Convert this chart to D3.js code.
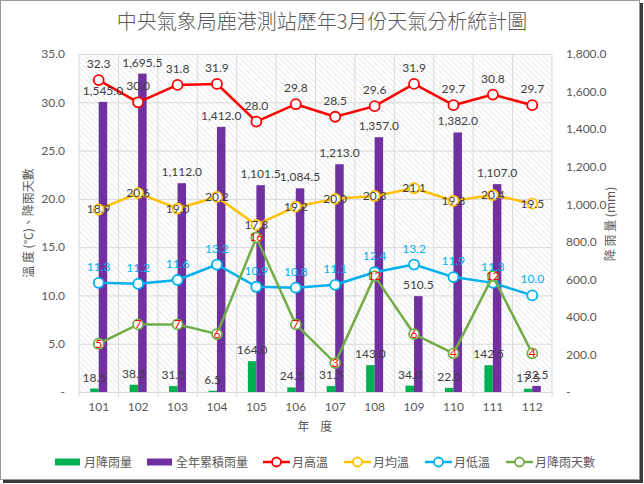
<!DOCTYPE html>
<html><head><meta charset="utf-8">
<script src="https://cdn.jsdelivr.net/npm/d3@7"></script>
<style>
html,body{margin:0;padding:0;background:#fff;}
svg{display:block;}
</style></head>
<body>
<script>
const years = ["101","102","103","104","105","106","107","108","109","110","111","112"];
const monthRain = [18.5,38.5,31.5,6.5,164.0,24.5,31.5,143.0,34.0,22.0,142.5,17.5];
const yearRain = [1545.0,1695.5,1112.0,1412.0,1101.5,1084.5,1213.0,1357.0,510.5,1382.0,1107.0,32.5];
const tempHigh = [32.3,30.0,31.8,31.9,28.0,29.8,28.5,29.6,31.9,29.7,30.8,29.7];
const tempAvg = [18.9,20.6,19.0,20.2,17.3,19.2,20.0,20.3,21.1,19.8,20.4,19.5];
const tempLow = [11.3,11.2,11.6,13.2,10.9,10.8,11.1,12.4,13.2,11.9,11.3,10.0];
const rainDays = [5,7,7,6,16,7,3,12,6,4,12,4];
const leftTicks = [0,5,10,15,20,25,30,35];
const rightTicks = [0,200,400,600,800,1000,1200,1400,1600,1800];

const W=644,H=484;
const m={l:79,r:552,t:54,b:392};
const svg=d3.select("body").append("svg").attr("width",W).attr("height",H);
const CJK="'Noto Sans CJK TC','Noto Sans CJK SC',sans-serif";
const NUM="Lato,'Noto Sans CJK TC',sans-serif";

// frame + shadow
svg.append("rect").attr("x",3).attr("y",3).attr("width",640).attr("height",480).attr("fill","#3a3a3a");
svg.append("rect").attr("x",0.5).attr("y",0.5).attr("width",639).attr("height",479).attr("fill","#fff").attr("stroke","#9a9a9a");

const defs=svg.append("defs");
const pat=defs.append("pattern").attr("id","hatch").attr("patternUnits","userSpaceOnUse")
  .attr("width",4).attr("height",4).attr("patternTransform","rotate(-45)");
pat.append("rect").attr("width",4).attr("height",4).attr("fill","#fff");
pat.append("line").attr("x1",0).attr("y1",0).attr("x2",0).attr("y2",4).attr("stroke","#dadada").attr("stroke-width",1.1);

const x=d3.scaleBand().domain(years).range([m.l,m.r]).padding(0);
const yL=d3.scaleLinear().domain([0,35]).range([m.b,m.t]);
const yR=d3.scaleLinear().domain([0,1800]).range([m.b,m.t]);

// plot background
svg.append("rect").attr("x",m.l).attr("y",m.t).attr("width",m.r-m.l).attr("height",m.b-m.t).attr("fill","url(#hatch)");

// gridlines
const gH=d3.axisLeft(yL).tickValues(leftTicks).tickSize(-(m.r-m.l)).tickFormat("");
svg.append("g").attr("transform",`translate(${m.l},0)`).call(gH)
  .call(g=>g.select(".domain").remove())
  .call(g=>g.selectAll("line").attr("stroke","#d9d9d9").attr("stroke-width",1));
const bounds=years.map(d=>x(d)).concat([m.r]);
svg.append("g").selectAll("line").data(bounds).join("line")
  .attr("x1",d=>d).attr("x2",d=>d).attr("y1",m.t).attr("y2",m.b+5)
  .attr("stroke","#d9d9d9").attr("stroke-width",1);

// axes labels
const axL=d3.axisLeft(yL).tickValues(leftTicks).tickSize(0).tickPadding(14)
  .tickFormat(d=>d===0?"-":d3.format(".1f")(d));
svg.append("g").attr("transform",`translate(${m.l},0)`).call(axL)
  .call(g=>g.select(".domain").remove())
  .call(g=>g.selectAll("text").attr("fill","#595959").attr("font-family",NUM).attr("font-size",12));
const axR=d3.axisRight(yR).tickValues(rightTicks).tickSize(0).tickPadding(14)
  .tickFormat(d=>d===0?"-":d3.format(",.1f")(d));
svg.append("g").attr("transform",`translate(${m.r},0)`).call(axR)
  .call(g=>g.select(".domain").remove())
  .call(g=>g.selectAll("text").attr("fill","#595959").attr("font-family",NUM).attr("font-size",12));
const axB=d3.axisBottom(x).tickSize(0).tickPadding(10);
svg.append("g").attr("transform",`translate(0,${m.b})`).call(axB)
  .call(g=>g.select(".domain").attr("stroke","#d9d9d9"))
  .call(g=>g.selectAll("text").attr("fill","#595959").attr("font-family",NUM).attr("font-size",12));

// titles
svg.append("text").attr("x",322).attr("y",29).attr("text-anchor","middle")
  .attr("font-family",CJK).attr("font-size",20).attr("font-weight",300).attr("fill","#595959").text("中央氣象局鹿港測站歷年3月份天氣分析統計圖");
svg.append("text").attr("x",315).attr("y",431).attr("text-anchor","middle")
  .attr("font-family",CJK).attr("font-size",12).attr("fill","#595959").attr("xml:space","preserve").text("年    度");
svg.append("text").attr("transform",`translate(33,${(m.t+m.b)/2}) rotate(-90)`).attr("text-anchor","middle")
  .attr("font-family",CJK).attr("font-size",12).attr("fill","#595959").attr("xml:space","preserve").text("溫 度 (°C)、降雨天數");
svg.append("text").attr("transform",`translate(615,224) rotate(-90)`).attr("text-anchor","middle")
  .attr("font-family",CJK).attr("font-size",12).attr("fill","#595959").attr("xml:space","preserve").text("降 雨 量 (mm)");

// bars
const bw=8.5;
const cx=d=>x(d)+x.bandwidth()/2;
svg.append("g").selectAll("rect").data(years).join("rect")
  .attr("x",(d)=>cx(d)-bw).attr("width",bw)
  .attr("y",(d,i)=>yR(monthRain[i])).attr("height",(d,i)=>yR(0)-yR(monthRain[i]))
  .attr("fill","#00B050");
svg.append("g").selectAll("rect").data(years).join("rect")
  .attr("x",(d)=>cx(d)).attr("width",bw)
  .attr("y",(d,i)=>yR(yearRain[i])).attr("height",(d,i)=>yR(0)-yR(yearRain[i]))
  .attr("fill","#7030A0");

// lines
const series=[
  {v:tempHigh,c:"#FF0000"},
  {v:tempAvg,c:"#FFC000"},
  {v:tempLow,c:"#00B0F0"},
  {v:rainDays,c:"#70AD47"}
];
const line=d3.line().x(d=>d[0]).y(d=>d[1]);
series.forEach(s=>{
  const pts=years.map((d,i)=>[cx(d),yL(s.v[i])]);
  svg.append("path").attr("d",line(pts)).attr("fill","none").attr("stroke",s.c).attr("stroke-width",2.5).attr("stroke-linejoin","round");
  svg.append("g").selectAll("circle").data(pts).join("circle")
    .attr("cx",d=>d[0]).attr("cy",d=>d[1]).attr("r",5).attr("fill","#fff").attr("stroke",s.c).attr("stroke-width",1.8);
});

// data labels
const lab=(arr,xf,yf,fill,fmt)=>svg.append("g").selectAll("text").data(arr).join("text")
  .attr("x",(d,i)=>xf(i)).attr("y",(d,i)=>yf(d,i)).attr("text-anchor","middle")
  .attr("font-family",NUM).attr("font-size",12).attr("fill",fill).text(fmt);
const f1=d3.format(".1f"), fc=d3.format(",.1f");
lab(monthRain,i=>cx(years[i])-bw/2,d=>yR(d)-7,"#404040",d=>f1(d));
lab(yearRain,i=>cx(years[i])+bw/2,d=>yR(d)-7,"#404040",d=>fc(d));
lab(tempHigh,i=>cx(years[i]),d=>yL(d)-12,"#404040",d=>f1(d));
lab(tempAvg,i=>cx(years[i]),d=>yL(d)+4,"#404040",d=>f1(d));
lab(tempLow,i=>cx(years[i]),d=>yL(d)-12,"#00B0F0",d=>f1(d));
lab(rainDays,i=>cx(years[i]),d=>yL(d)+4,"#FF0000",d=>d);

// legend
const lg=svg.append("g").attr("font-family",CJK).attr("font-size",12).attr("fill","#595959");
const items=[
  {t:"月降雨量",type:"bar",c:"#00B050",x:55},
  {t:"全年累積雨量",type:"bar",c:"#7030A0",x:147},
  {t:"月高溫",type:"line",c:"#FF0000",x:263},
  {t:"月均溫",type:"line",c:"#FFC000",x:344},
  {t:"月低溫",type:"line",c:"#00B0F0",x:425},
  {t:"月降雨天數",type:"line",c:"#70AD47",x:506}
];
const ly=462;
items.forEach(it=>{
  if(it.type==="bar"){
    lg.append("rect").attr("x",it.x).attr("y",ly-3.5).attr("width",25).attr("height",7).attr("fill",it.c);
  } else {
    lg.append("line").attr("x1",it.x).attr("x2",it.x+27).attr("y1",ly).attr("y2",ly).attr("stroke",it.c).attr("stroke-width",2.5);
    lg.append("circle").attr("cx",it.x+13.5).attr("cy",ly).attr("r",4.5).attr("fill","#fff").attr("stroke",it.c).attr("stroke-width",1.8);
  }
  lg.append("text").attr("x",it.x+29).attr("y",ly+4.5).text(it.t);
});
</script>
</body></html>
